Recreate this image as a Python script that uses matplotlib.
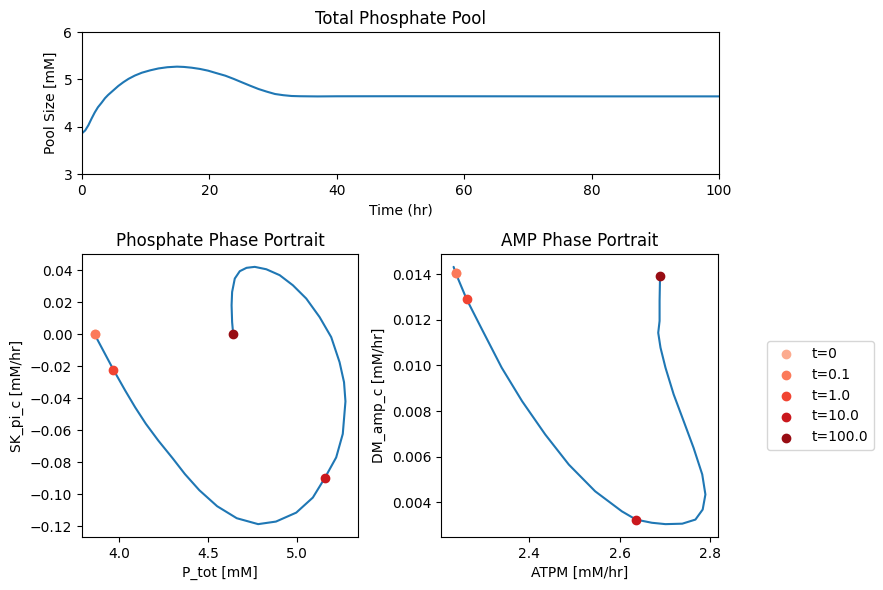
import numpy as np
import matplotlib
matplotlib.use("Agg")
import matplotlib.pyplot as plt

# Time series: total phosphate pool
time_hr = [0.0, 0.5, 1.0, 1.5, 2.0, 2.5, 3.1, 3.6, 4.1, 5.7, 6.5, 7.3, 8.3, 9.4, 10.7,
           12.0, 13.4, 14.9, 16.0, 17.2, 18.5, 19.8, 21.0, 22.5, 23.8, 25.1, 26.4,
           27.7, 29.0, 30.3, 31.6, 32.9, 34.2, 35.5, 37.0, 40.0, 50.0, 60.0, 70.0,
           80.0, 90.0, 100.0]
pool_size = [3.86, 3.92, 4.03, 4.17, 4.30, 4.41, 4.51, 4.60, 4.67, 4.86, 4.94, 5.01,
             5.08, 5.14, 5.19, 5.23, 5.256, 5.268, 5.262, 5.246, 5.22, 5.183, 5.135,
             5.077, 5.01, 4.937, 4.865, 4.796, 4.74, 4.690, 4.665, 4.648, 4.643,
             4.641, 4.639, 4.642, 4.643, 4.642, 4.641, 4.640, 4.640, 4.640]

# Phosphate phase portrait
p_tot = [3.862, 3.968, 4.034, 4.090, 4.150, 4.220, 4.300, 4.369, 4.450, 4.550, 4.660,
         4.780, 4.880, 4.994, 5.087, 5.154, 5.218, 5.255, 5.270, 5.262, 5.237, 5.190,
         5.125, 5.050, 4.975, 4.901, 4.826, 4.761, 4.715, 4.677, 4.649, 4.634, 4.631,
         4.634, 4.640]
sk_pi_c = [0.0, -0.0222, -0.0352, -0.0457, -0.0560, -0.0665, -0.0775, -0.0874, -0.0975,
           -0.1075, -0.1150, -0.1187, -0.1171, -0.1115, -0.1021, -0.0899, -0.0770,
           -0.0623, -0.0420, -0.0300, -0.0175, -0.0018, 0.0107, 0.0223, 0.0306, 0.0369,
           0.0406, 0.0421, 0.0415, 0.0394, 0.0348, 0.0264, 0.0181, 0.0076, 0.0]

# AMP phase portrait
atpm = [2.234, 2.239, 2.263, 2.296, 2.340, 2.385, 2.436, 2.488, 2.546, 2.605, 2.636,
        2.671, 2.701, 2.738, 2.767, 2.783, 2.789, 2.782, 2.763, 2.741, 2.719, 2.701,
        2.690, 2.685, 2.688, 2.688, 2.689]
dm_amp_c = [0.01432, 0.01403, 0.01289, 0.01160, 0.00990, 0.00843, 0.00697, 0.00565,
            0.00448, 0.00360, 0.00324, 0.00310, 0.00304, 0.00306, 0.00324, 0.00368,
            0.00434, 0.00522, 0.00638, 0.00756, 0.00873, 0.00990, 0.01078, 0.01143,
            0.01195, 0.01283, 0.01391]

# Marked time points
point_labels = ["t=0", "t=0.1", "t=1.0", "t=10.0", "t=100.0"]
pt_p_tot = [3.862, 3.863, 3.968, 5.153, 4.640]
pt_sk_pi_c = [0.0, 0.0, -0.0222, -0.0899, 0.0]
pt_atpm = [2.239, 2.239, 2.263, 2.636, 2.689]
pt_dm_amp_c = [0.01403, 0.01403, 0.01289, 0.00324, 0.01391]

colors = plt.cm.Reds(np.linspace(0.3, 0.9, len(point_labels)))

fig = plt.figure(figsize=(8.83, 5.90), dpi=100)
W, H = 883, 590

def add_ax(x0, y0, x1, y1):
    return fig.add_axes([x0 / W, 1 - y1 / H, (x1 - x0) / W, (y1 - y0) / H])

ax_top = add_ax(82, 32, 719, 174)
ax_l = add_ax(82, 254, 358, 537)
ax_r = add_ax(441, 254, 718, 537)

line_kw = dict(color="#1f77b4", solid_joinstyle="round", solid_capstyle="round")

ax_top.plot(time_hr, pool_size, **line_kw)
ax_top.set_xlim(0, 100)
ax_top.set_ylim(3, 6)
ax_top.set_yticks([3, 4, 5, 6])
ax_top.set_xlabel("Time (hr)")
ax_top.set_ylabel("Pool Size [mM]")
ax_top.set_title("Total Phosphate Pool")

ax_l.plot(p_tot, sk_pi_c, **line_kw)
for i, lab in enumerate(point_labels):
    ax_l.scatter(pt_p_tot[i], pt_sk_pi_c[i], color=colors[i], label=lab, zorder=3)
ax_l.set_xlabel("P_tot [mM]")
ax_l.set_ylabel("SK_pi_c [mM/hr]")
ax_l.set_title("Phosphate Phase Portrait")

ax_r.plot(atpm, dm_amp_c, **line_kw)
for i, lab in enumerate(point_labels):
    ax_r.scatter(pt_atpm[i], pt_dm_amp_c[i], color=colors[i], label=lab, zorder=3)
ax_r.set_xlabel("ATPM [mM/hr]")
ax_r.set_ylabel("DM_amp_c [mM/hr]")
ax_r.set_title("AMP Phase Portrait")
ax_r.set_xticks([2.4, 2.6, 2.8])

handles, labels = ax_r.get_legend_handles_labels()
fig.legend(handles, labels, loc="center left",
           bbox_to_anchor=(767 / W, 1 - 395.5 / H), borderaxespad=0)

fig.savefig("out.png", dpi=100)
